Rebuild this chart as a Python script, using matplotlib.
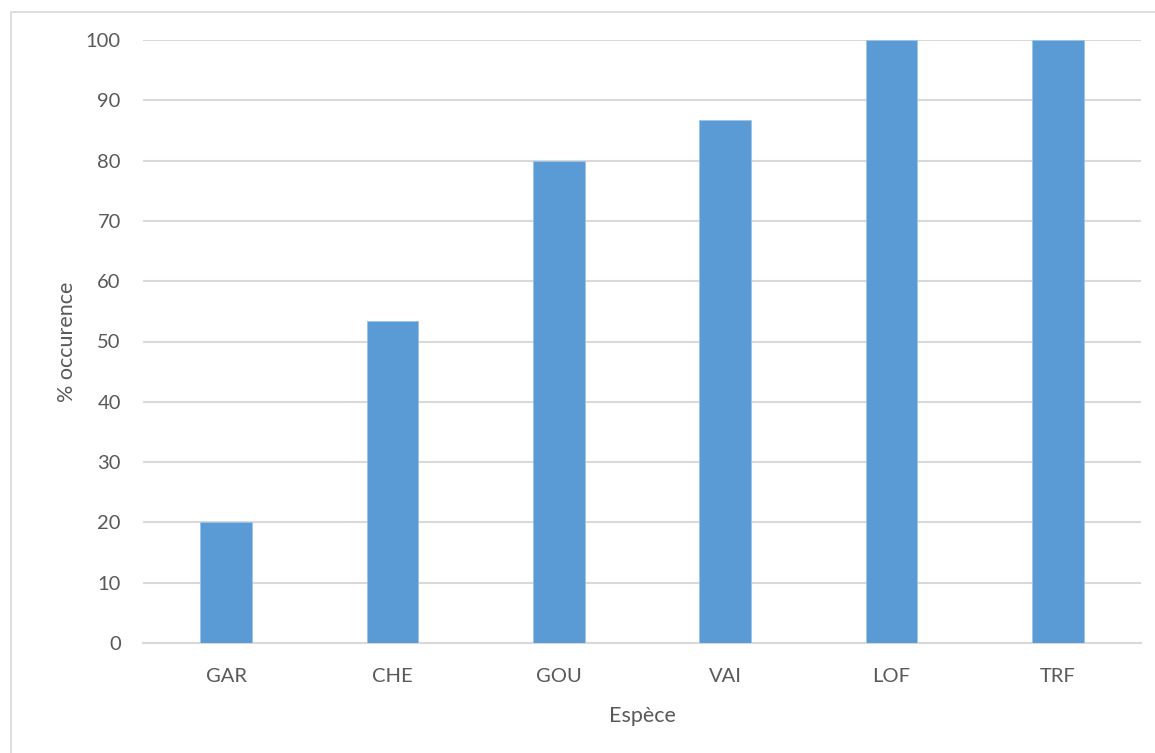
import matplotlib
matplotlib.use("Agg")
import matplotlib.pyplot as plt
from matplotlib.patches import Rectangle

especes = ["GAR", "CHE", "GOU", "VAI", "LOF", "TRF"]
occurence = [20.0, 53.33, 80.0, 86.67, 100.0, 100.0]
y_ticks = list(range(0, 101, 10))

BAR_COLOR = "#5B9BD5"
TEXT_COLOR = "#595959"
GRID_COLOR = "#D9D9D9"

plt.rcParams["font.family"] = ["Lato", "DejaVu Sans"]

fig = plt.figure(figsize=(11.55, 7.53), dpi=100)
ax = fig.add_axes([143 / 1155, 1 - 643 / 753, (1141 - 143) / 1155, (643 - 40) / 753])

# chart area border (Excel style)
fig.patches.append(Rectangle((11 / 1155, -0.1), 1.2, 1 - 12 / 753 + 0.1,
                             transform=fig.transFigure, fill=False,
                             edgecolor=GRID_COLOR, linewidth=1.2))

x = list(range(len(especes)))
ax.bar(x, occurence, width=0.31, color=BAR_COLOR, edgecolor="#9DC3E6",
       linewidth=0.6, zorder=3)

ax.set_xlim(-0.5, len(especes) - 0.5)
ax.set_ylim(0, 100)
ax.set_yticks(y_ticks)
ax.set_xticks(x)
ax.set_xticklabels(especes)
ax.yaxis.grid(True, color=GRID_COLOR, linewidth=1.5, zorder=0)
ax.set_axisbelow(True)
for side in ["top", "right", "left"]:
    ax.spines[side].set_visible(False)
ax.spines["bottom"].set_color(GRID_COLOR)
ax.spines["bottom"].set_linewidth(1.5)
ax.tick_params(axis="both", length=0, labelsize=14.5, colors=TEXT_COLOR)
ax.tick_params(axis="y", pad=16)
ax.tick_params(axis="x", pad=18)

ax.set_xlabel("Espèce", fontsize=15.5, color=TEXT_COLOR, labelpad=15)
ax.set_ylabel("% occurence", fontsize=15.5, color=TEXT_COLOR, labelpad=6)

fig.savefig("out.png", dpi=100)
